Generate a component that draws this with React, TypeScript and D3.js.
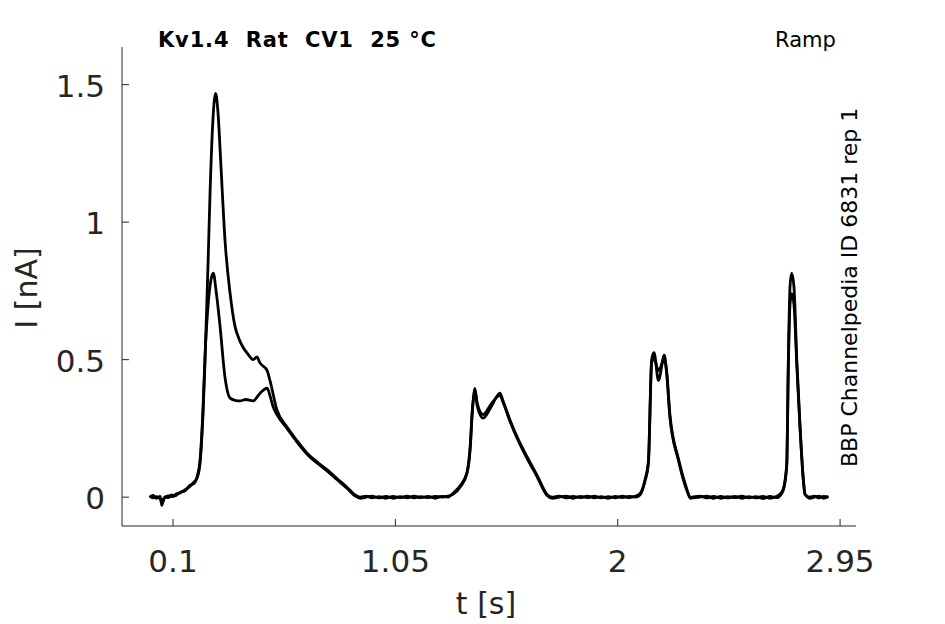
import { FC, useEffect, useRef, RefObject } from 'react';
import * as d3 from 'd3';

// recordings: [t in s, I in nA]
const traceHigh: [number, number][] = [
    [0.0, 0.0], [0.015, 0.006], [0.03, -0.004], [0.045, 0.003], [0.052, -0.03], [0.06, -0.005],
    [0.075, 0.004], [0.087, 0.005], [0.1, 0.002], [0.115, 0.012], [0.13, 0.015], [0.15, 0.026],
    [0.173, 0.04], [0.19, 0.055], [0.203, 0.07], [0.215, 0.12], [0.228, 0.3], [0.237, 0.5],
    [0.25, 0.86], [0.258, 1.1], [0.271, 1.38], [0.282, 1.468], [0.292, 1.4], [0.305, 1.2],
    [0.322, 0.935], [0.344, 0.74], [0.365, 0.62], [0.38, 0.58], [0.399, 0.545], [0.42, 0.52],
    [0.442, 0.5], [0.459, 0.51], [0.47, 0.49], [0.48, 0.48], [0.502, 0.46], [0.514, 0.425],
    [0.544, 0.317], [0.587, 0.255], [0.63, 0.205], [0.673, 0.16], [0.715, 0.128], [0.758, 0.1],
    [0.8, 0.068], [0.843, 0.036], [0.875, 0.01], [0.9, 0.0], [0.925, 0.004], [0.95, -0.003], [0.98, 0.002],
    [1.01, -0.004], [1.04, 0.003], [1.07, -0.002], [1.1, 0.004], [1.13, -0.003], [1.16, 0.002],
    [1.19, -0.002], [1.22, 0.003], [1.25, 0.0], [1.275, 0.004], [1.296, 0.01], [1.33, 0.04],
    [1.356, 0.087], [1.37, 0.18], [1.378, 0.3], [1.39, 0.395], [1.4, 0.33], [1.425, 0.287],
    [1.46, 0.33], [1.497, 0.378], [1.51, 0.35], [1.54, 0.28], [1.575, 0.21], [1.613, 0.146],
    [1.655, 0.08], [1.698, 0.01], [1.72, 0.0], [1.75, 0.004], [1.78, -0.003], [1.81, 0.003],
    [1.84, -0.002], [1.87, 0.004], [1.9, -0.003], [1.93, 0.002], [1.96, -0.004], [1.99, 0.003],
    [2.02, -0.002], [2.05, 0.003], [2.075, 0.0], [2.095, 0.008], [2.117, 0.06], [2.131, 0.12],
    [2.145, 0.5], [2.155, 0.525], [2.174, 0.425], [2.199, 0.516], [2.209, 0.45], [2.223, 0.29],
    [2.259, 0.135], [2.295, 0.025], [2.31, 0.0], [2.35, 0.004],
    [2.38, -0.003], [2.41, 0.003], [2.44, -0.004], [2.47, 0.002], [2.5, -0.002], [2.53, 0.004],
    [2.56, -0.003], [2.59, 0.002], [2.62, -0.005], [2.65, 0.003], [2.68, -0.002], [2.705, 0.02],
    [2.722, 0.11], [2.729, 0.5], [2.736, 0.765], [2.743, 0.815], [2.753, 0.765], [2.765, 0.5],
    [2.779, 0.256], [2.793, 0.06], [2.8, 0.01], [2.82, 0.0], [2.84, 0.004], [2.86, -0.003],
    [2.88, 0.003], [2.9, 0.0]
];

const traceLow: [number, number][] = [
    [0.0, 0.004], [0.015, -0.003], [0.03, 0.002], [0.045, -0.006], [0.055, -0.02], [0.065, 0.0],
    [0.08, -0.002], [0.095, 0.008], [0.11, 0.005], [0.13, 0.018], [0.15, 0.022], [0.173, 0.044],
    [0.19, 0.05], [0.203, 0.075], [0.215, 0.13], [0.228, 0.32], [0.237, 0.52], [0.25, 0.7],
    [0.262, 0.79], [0.272, 0.815], [0.284, 0.75], [0.301, 0.62], [0.322, 0.436], [0.344, 0.36],
    [0.365, 0.352], [0.386, 0.35], [0.41, 0.355], [0.442, 0.35], [0.472, 0.378], [0.502, 0.396],
    [0.514, 0.37], [0.527, 0.33], [0.544, 0.3], [0.587, 0.25], [0.63, 0.2], [0.673, 0.156],
    [0.715, 0.124], [0.758, 0.095], [0.8, 0.064], [0.843, 0.032], [0.875, 0.006], [0.9, -0.004],
    [0.925, 0.0], [0.95, 0.004], [0.98, -0.003], [1.01, 0.003], [1.04, -0.004], [1.07, 0.002], [1.1, -0.003],
    [1.13, 0.004], [1.16, -0.002], [1.19, 0.003], [1.22, -0.004], [1.25, 0.003], [1.275, 0.0],
    [1.296, 0.014], [1.33, 0.045], [1.356, 0.09], [1.37, 0.19], [1.378, 0.31], [1.39, 0.385],
    [1.4, 0.34], [1.425, 0.3], [1.46, 0.34], [1.497, 0.37], [1.51, 0.345], [1.54, 0.275],
    [1.575, 0.205], [1.613, 0.14], [1.655, 0.075], [1.698, 0.006], [1.72, -0.004], [1.75, 0.0],
    [1.78, 0.004], [1.81, -0.004], [1.84, 0.003], [1.87, -0.002], [1.9, 0.004], [1.93, -0.003],
    [1.96, 0.002], [1.99, -0.003], [2.02, 0.004], [2.05, -0.002], [2.075, 0.003], [2.095, 0.012],
    [2.117, 0.065], [2.131, 0.13], [2.145, 0.49], [2.155, 0.505], [2.174, 0.46], [2.199, 0.5],
    [2.209, 0.46], [2.223, 0.3], [2.259, 0.14], [2.295, 0.03], [2.31, -0.004], [2.35, 0.0],
    [2.38, 0.004], [2.41, -0.004], [2.44, 0.003], [2.47, -0.003],
    [2.5, 0.003], [2.53, -0.004], [2.56, 0.002], [2.59, -0.003], [2.62, 0.003], [2.65, -0.004],
    [2.68, 0.003], [2.705, 0.025], [2.722, 0.12], [2.729, 0.48], [2.736, 0.7], [2.743, 0.74],
    [2.753, 0.7], [2.765, 0.48], [2.779, 0.25], [2.793, 0.065], [2.8, 0.012], [2.82, -0.004],
    [2.84, 0.0], [2.86, 0.004], [2.88, -0.004], [2.9, 0.002]
];

const xTicks = [0.1, 1.05, 2, 2.95];
const yTicks = [0, 0.5, 1, 1.5];

const titleText = 'Kv1.4  Rat  CV1  25 °C';
const protocolText = 'Ramp';
const sideText = 'BBP Channelpedia ID 6831 rep 1';

const App: FC = () => {
    const svgRef = useRef<SVGSVGElement>(null);

    function draw(svgRef: RefObject<SVGSVGElement>) {
        const width = 945;
        const height = 624;
        const left = 122, right = 856, top = 47, bottom = 526;
        const axisColor = '#262626';
        const font = "'DejaVu Sans', sans-serif";

        const svg = d3.select(svgRef.current)
            .attr('width', width)
            .attr('height', height);
        svg.selectAll('*').remove();

        svg.append('rect').attr('width', width).attr('height', height).attr('fill', 'white');

        const x = d3.scaleLinear().domain([-0.118, 3.018]).range([left, right]);
        const y = d3.scaleLinear().domain([-0.105, 1.637]).range([bottom, top]);

        const line = d3.line<[number, number]>()
            .x(d => x(d[0]))
            .y(d => y(d[1]))
            .curve(d3.curveMonotoneX);

        svg.selectAll('path.trace')
            .data([traceLow, traceHigh])
            .enter()
            .append('path')
            .attr('class', 'trace')
            .attr('d', d => line(d))
            .attr('fill', 'none')
            .attr('stroke', 'black')
            .attr('stroke-width', 2.8)
            .attr('stroke-linejoin', 'round');

        // axes box (left + bottom only), ticks pointing inward
        svg.append('line')
            .attr('x1', left).attr('x2', left).attr('y1', top).attr('y2', bottom)
            .attr('stroke', axisColor).attr('stroke-width', 1);
        svg.append('line')
            .attr('x1', left).attr('x2', right).attr('y1', bottom).attr('y2', bottom)
            .attr('stroke', axisColor).attr('stroke-width', 1);

        svg.selectAll('line.xtick')
            .data(xTicks)
            .enter()
            .append('line')
            .attr('class', 'xtick')
            .attr('x1', d => x(d)).attr('x2', d => x(d))
            .attr('y1', bottom).attr('y2', bottom - 7)
            .attr('stroke', axisColor);

        svg.selectAll('text.xlabel')
            .data(xTicks)
            .enter()
            .append('text')
            .attr('class', 'xlabel')
            .attr('x', d => x(d))
            .attr('y', 572)
            .attr('text-anchor', 'middle')
            .attr('font-family', font)
            .attr('font-size', 31)
            .attr('fill', axisColor)
            .text(d => String(d));

        svg.selectAll('line.ytick')
            .data(yTicks)
            .enter()
            .append('line')
            .attr('class', 'ytick')
            .attr('x1', left).attr('x2', left + 7)
            .attr('y1', d => y(d)).attr('y2', d => y(d))
            .attr('stroke', axisColor);

        svg.selectAll('text.ylabel')
            .data(yTicks)
            .enter()
            .append('text')
            .attr('class', 'ylabel')
            .attr('x', 105)
            .attr('y', d => y(d) + 12)
            .attr('text-anchor', 'end')
            .attr('font-family', font)
            .attr('font-size', 31)
            .attr('fill', axisColor)
            .text(d => String(d));

        svg.append('text')
            .attr('x', 486)
            .attr('y', 614)
            .attr('text-anchor', 'middle')
            .attr('font-family', font)
            .attr('font-size', 30)
            .attr('fill', axisColor)
            .text('t [s]');

        svg.append('text')
            .attr('transform', 'translate(37,288) rotate(-90)')
            .attr('text-anchor', 'middle')
            .attr('font-family', font)
            .attr('font-size', 30)
            .attr('fill', axisColor)
            .text('I [nA]');

        svg.append('text')
            .attr('x', 158)
            .attr('y', 47)
            .attr('font-family', font)
            .attr('font-size', 21)
            .attr('font-weight', 'bold')
            .attr('letter-spacing', 0.85)
            .attr('fill', 'black')
            .style('white-space', 'pre')
            .text(titleText);

        svg.append('text')
            .attr('x', 775)
            .attr('y', 47)
            .attr('font-family', font)
            .attr('font-size', 21)
            .attr('fill', 'black')
            .text(protocolText);

        svg.append('text')
            .attr('transform', 'translate(857,467) rotate(-90)')
            .attr('text-anchor', 'start')
            .attr('font-family', font)
            .attr('font-size', 22)
            .attr('fill', 'black')
            .text(sideText);
    }

    useEffect(() => {
        draw(svgRef);
    }, [svgRef]);

    return <svg ref={svgRef} style={{ position: 'absolute', left: 0, top: 0, display: 'block' }}></svg>;
};

export default App;
